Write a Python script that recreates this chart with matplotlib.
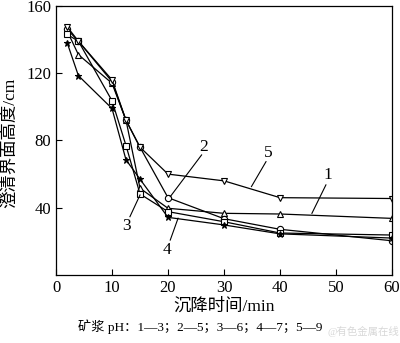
import matplotlib
matplotlib.use('Agg')
import matplotlib.pyplot as plt

plt.rcParams['font.family'] = ['Liberation Serif', 'Noto Sans CJK SC']

# settling time (min)
t = [2, 4, 10, 12.5, 15, 20, 30, 40, 60]

# interface height (cm) for each pulp pH
h_ph3 = [145, 131, 114, 92, 51.6, 39.7, 36.7, 36.3, 33.7]
h_ph5 = [146, 139, 115, 92, 76, 46, 33.5, 27.2, 20.4]
h_ph6 = [143, 139, 103.6, 77, 48.2, 37.7, 31.7, 25, 23.8]
h_ph7 = [138, 118.5, 99, 68.5, 57, 34.3, 29.8, 24.5, 22]
h_ph9 = [147.5, 139, 116, 92, 76, 60, 56, 46, 45.5]

series = [h_ph3, h_ph5, h_ph6, h_ph7, h_ph9]
markers = ['^', 'o', 's', '*', 'v']

# curve labels: text position, leader start, leader end
labels = ['1', '2', '3', '4', '5']
label_pos = [(48.6, 59.5), (26.3, 76.4), (12.6, 29.2), (19.8, 14.9), (37.9, 72.4)]
leader_from = [(48.2, 53.6), (26.0, 71.4), (13.2, 34.7), (20.4, 20.8), (37.5, 67.4)]
leader_to = [(45.7, 36.7), (20.4, 46.6), (15.0, 47.6), (21.8, 33.8), (34.9, 52.6)]

fig = plt.figure(figsize=(4.0, 3.43), dpi=100)
ax = fig.add_axes([0.14, 0.198, 0.84, 0.785])

for h, m in zip(series, markers):
    ms = 5 if m == '*' else 4.5
    ax.plot(t, h, color='black', lw=0.9, marker=m, ms=ms,
            mfc='black' if m == '*' else 'white', mec='black', mew=0.8)

for lab, p, a, b in zip(labels, label_pos, leader_from, leader_to):
    ax.plot([a[0], b[0]], [a[1], b[1]], color='black', lw=0.8)
    ax.text(p[0], p[1], lab, fontsize=12.5, ha='center', va='center')

ax.set_xlim(0, 60)
ax.set_ylim(0, 160)
ax.set_xticks([0, 10, 20, 30, 40, 50, 60])
ax.set_yticks([40, 80, 120, 160])
ax.tick_params(direction='in', length=4, labelsize=12, width=0.8)
for s in ax.spines.values():
    s.set_linewidth(0.9)

ax.set_xlabel('沉降时间/min', fontsize=12.5, labelpad=2)
ax.set_ylabel('澄清界面高度/cm', fontsize=12.5)
ax.yaxis.set_label_coords(-0.112, 0.49)

fig.text(0.5, 0.047, '矿浆 pH：1—3；2—5；3—6；4—7；5—9', fontsize=9.5,
         ha='center', va='center')
fig.text(0.82, 0.035, '@有色金属在线', fontsize=7.5, ha='left', va='center',
         color='#d8d8d8')

fig.savefig('out.png', dpi=100)
